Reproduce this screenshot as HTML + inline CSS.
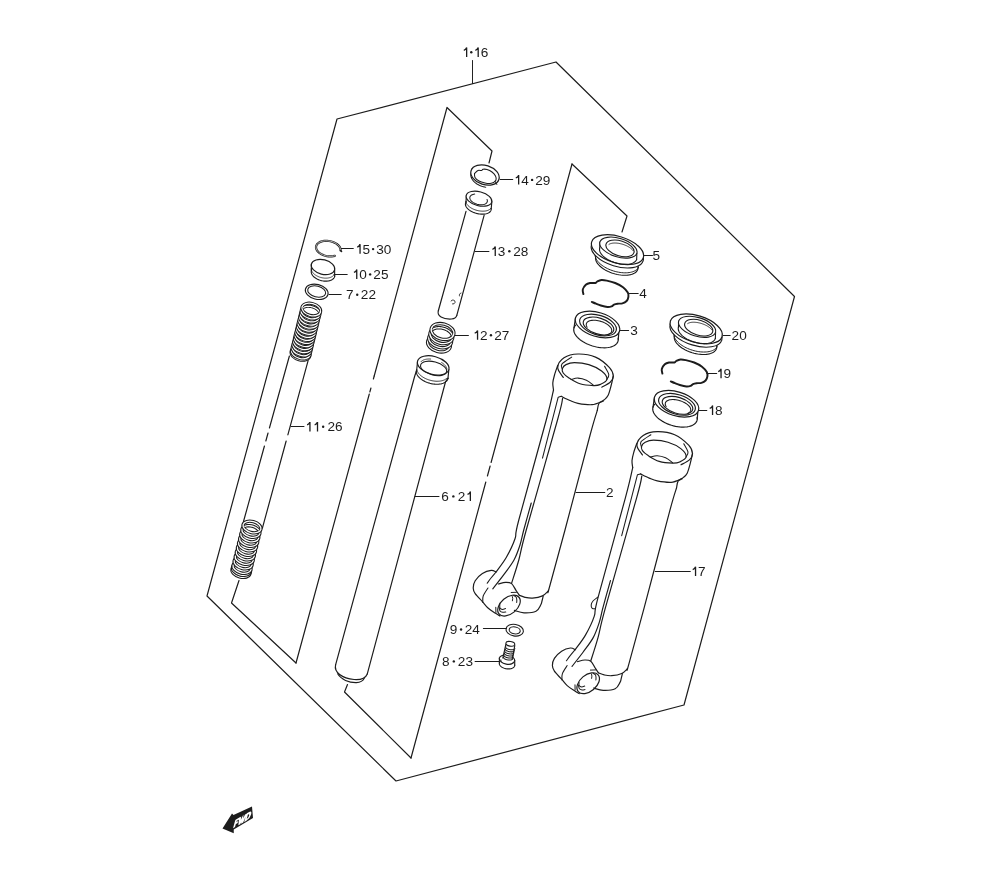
<!DOCTYPE html>
<html><head><meta charset="utf-8"><style>
html,body{margin:0;padding:0;background:#fff;width:1000px;height:880px;overflow:hidden}
svg{display:block;will-change:transform}
</style></head><body>
<svg width="1000" height="880" viewBox="0 0 1000 880">
<g fill="none" stroke="#1c1c1c" stroke-linecap="round" stroke-linejoin="round">
<path d="M556.00,62.00 L337.00,119.00 L207.00,596.00 L396.00,781.00 L684.00,705.00 L794.50,296.50 L556.00,62.00" stroke-width="1.19" />
<path d="M472.50,60.50 L472.50,83.60" stroke-width="0.97" />
<path d="M489.00,163.00 L492.00,151.00 L447.00,107.50 L374.20,376.00" stroke-width="1.19" />
<path d="M374.20,376.00 L373.38,379.00" stroke-width="1.19" />
<path d="M370.93,388.00 L369.84,392.00" stroke-width="1.19" />
<path d="M369.30,394.00 L296.00,663.00" stroke-width="1.19" />
<path d="M296.00,663.00 L231.50,603.00 L239.00,580.50" stroke-width="1.19" />
<path d="M622.00,232.00 L627.00,216.00 L572.00,164.00" stroke-width="1.19" />
<path d="M572.00,164.00 L491.09,462.50" stroke-width="1.19" />
<path d="M490.14,466.00 L487.43,476.00" stroke-width="1.19" />
<path d="M485.81,482.00 L411.00,758.00" stroke-width="1.19" />
<path d="M411.00,758.00 L344.50,692.00 L347.50,684.50" stroke-width="1.19" />
<path d="M341.20,248.50 L353.30,248.50" stroke-width="1.06" />
<path d="M334.00,274.50 L347.20,274.50" stroke-width="1.06" />
<path d="M329.00,294.50 L341.20,294.50" stroke-width="1.06" />
<path d="M500.20,179.50 L512.70,179.50" stroke-width="1.06" />
<path d="M475.20,251.50 L488.90,251.50" stroke-width="1.06" />
<path d="M454.80,335.50 L468.40,335.50" stroke-width="1.06" />
<path d="M644.30,255.50 L652.50,255.50" stroke-width="1.06" />
<path d="M629.30,293.50 L638.20,293.50" stroke-width="1.06" />
<path d="M620.40,330.50 L628.60,330.50" stroke-width="1.06" />
<path d="M723.10,335.50 L730.20,335.50" stroke-width="1.06" />
<path d="M706.80,373.50 L716.70,373.50" stroke-width="1.06" />
<path d="M698.20,410.50 L706.80,410.50" stroke-width="1.06" />
<path d="M576.00,492.50 L604.80,492.50" stroke-width="1.06" />
<path d="M655.20,571.50 L690.30,571.50" stroke-width="1.06" />
<path d="M291.00,426.50 L304.00,426.50" stroke-width="1.06" />
<path d="M415.00,496.50 L439.00,496.50" stroke-width="1.06" />
<path d="M483.40,628.50 L506.50,628.50" stroke-width="1.06" />
<path d="M475.10,661.50 L499.30,661.50" stroke-width="1.06" />
<ellipse cx="300.46" cy="353.88" rx="9.60" ry="6.00" transform="rotate(15 300.46 353.88)" stroke-width="3.10" fill="#fff" />
<ellipse cx="300.46" cy="353.88" rx="9.60" ry="6.00" transform="rotate(15 300.46 353.88)" stroke-width="1.25" fill="none" stroke="#fff"/>
<ellipse cx="300.80" cy="352.50" rx="9.60" ry="6.00" transform="rotate(15 300.80 352.50)" stroke-width="3.10" fill="#fff" />
<ellipse cx="300.80" cy="352.50" rx="9.60" ry="6.00" transform="rotate(15 300.80 352.50)" stroke-width="1.25" fill="none" stroke="#fff"/>
<ellipse cx="301.55" cy="349.43" rx="9.60" ry="6.00" transform="rotate(15 301.55 349.43)" stroke-width="3.10" fill="#fff" />
<ellipse cx="301.55" cy="349.43" rx="9.60" ry="6.00" transform="rotate(15 301.55 349.43)" stroke-width="1.25" fill="none" stroke="#fff"/>
<ellipse cx="302.30" cy="346.36" rx="9.60" ry="6.00" transform="rotate(15 302.30 346.36)" stroke-width="3.10" fill="#fff" />
<ellipse cx="302.30" cy="346.36" rx="9.60" ry="6.00" transform="rotate(15 302.30 346.36)" stroke-width="1.25" fill="none" stroke="#fff"/>
<ellipse cx="303.05" cy="343.29" rx="9.60" ry="6.00" transform="rotate(15 303.05 343.29)" stroke-width="3.10" fill="#fff" />
<ellipse cx="303.05" cy="343.29" rx="9.60" ry="6.00" transform="rotate(15 303.05 343.29)" stroke-width="1.25" fill="none" stroke="#fff"/>
<ellipse cx="303.80" cy="340.21" rx="9.60" ry="6.00" transform="rotate(15 303.80 340.21)" stroke-width="3.10" fill="#fff" />
<ellipse cx="303.80" cy="340.21" rx="9.60" ry="6.00" transform="rotate(15 303.80 340.21)" stroke-width="1.25" fill="none" stroke="#fff"/>
<ellipse cx="304.55" cy="337.14" rx="9.60" ry="6.00" transform="rotate(15 304.55 337.14)" stroke-width="3.10" fill="#fff" />
<ellipse cx="304.55" cy="337.14" rx="9.60" ry="6.00" transform="rotate(15 304.55 337.14)" stroke-width="1.25" fill="none" stroke="#fff"/>
<ellipse cx="305.30" cy="334.07" rx="9.60" ry="6.00" transform="rotate(15 305.30 334.07)" stroke-width="3.10" fill="#fff" />
<ellipse cx="305.30" cy="334.07" rx="9.60" ry="6.00" transform="rotate(15 305.30 334.07)" stroke-width="1.25" fill="none" stroke="#fff"/>
<ellipse cx="306.05" cy="331.00" rx="9.60" ry="6.00" transform="rotate(15 306.05 331.00)" stroke-width="3.10" fill="#fff" />
<ellipse cx="306.05" cy="331.00" rx="9.60" ry="6.00" transform="rotate(15 306.05 331.00)" stroke-width="1.25" fill="none" stroke="#fff"/>
<ellipse cx="306.80" cy="327.93" rx="9.60" ry="6.00" transform="rotate(15 306.80 327.93)" stroke-width="3.10" fill="#fff" />
<ellipse cx="306.80" cy="327.93" rx="9.60" ry="6.00" transform="rotate(15 306.80 327.93)" stroke-width="1.25" fill="none" stroke="#fff"/>
<ellipse cx="307.55" cy="324.86" rx="9.60" ry="6.00" transform="rotate(15 307.55 324.86)" stroke-width="3.10" fill="#fff" />
<ellipse cx="307.55" cy="324.86" rx="9.60" ry="6.00" transform="rotate(15 307.55 324.86)" stroke-width="1.25" fill="none" stroke="#fff"/>
<ellipse cx="308.30" cy="321.79" rx="9.60" ry="6.00" transform="rotate(15 308.30 321.79)" stroke-width="3.10" fill="#fff" />
<ellipse cx="308.30" cy="321.79" rx="9.60" ry="6.00" transform="rotate(15 308.30 321.79)" stroke-width="1.25" fill="none" stroke="#fff"/>
<ellipse cx="309.05" cy="318.71" rx="9.60" ry="6.00" transform="rotate(15 309.05 318.71)" stroke-width="3.10" fill="#fff" />
<ellipse cx="309.05" cy="318.71" rx="9.60" ry="6.00" transform="rotate(15 309.05 318.71)" stroke-width="1.25" fill="none" stroke="#fff"/>
<ellipse cx="309.80" cy="315.64" rx="9.60" ry="6.00" transform="rotate(15 309.80 315.64)" stroke-width="3.10" fill="#fff" />
<ellipse cx="309.80" cy="315.64" rx="9.60" ry="6.00" transform="rotate(15 309.80 315.64)" stroke-width="1.25" fill="none" stroke="#fff"/>
<ellipse cx="310.55" cy="312.57" rx="9.60" ry="6.00" transform="rotate(15 310.55 312.57)" stroke-width="3.10" fill="#fff" />
<ellipse cx="310.55" cy="312.57" rx="9.60" ry="6.00" transform="rotate(15 310.55 312.57)" stroke-width="1.25" fill="none" stroke="#fff"/>
<ellipse cx="311.30" cy="309.50" rx="9.60" ry="6.00" transform="rotate(15 311.30 309.50)" stroke-width="3.10" fill="#fff" />
<ellipse cx="311.30" cy="309.50" rx="9.60" ry="6.00" transform="rotate(15 311.30 309.50)" stroke-width="1.25" fill="none" stroke="#fff"/>
<clipPath id="sc1"><ellipse cx="311.30" cy="309.50" rx="8.40" ry="4.80" transform="rotate(15 311.30 309.50)"/></clipPath>
<g clip-path="url(#sc1)">
<path d="M301.15,311.13 L301.18,310.60 L301.28,310.09 L301.45,309.59 L301.69,309.12 L302.00,308.67 L302.37,308.25 L302.80,307.87 L303.30,307.52 L303.84,307.21 L304.44,306.94 L305.09,306.72 L305.78,306.53 L306.50,306.40 L307.26,306.31 L308.04,306.27 L308.84,306.28 L309.65,306.33 L310.47,306.43 L311.29,306.58 L312.10,306.78 L312.91,307.01 L313.69,307.30 L314.45,307.62 L315.18,307.98 L315.88,308.37 L316.53,308.79 L317.14,309.25 L317.70,309.73 L318.20,310.23 L318.65,310.75 L319.04,311.28 L319.36,311.83 L319.61,312.37 L319.79,312.92 L319.91,313.47 L319.95,314.01 L319.92,314.54 L319.82,315.06 L319.65,315.55 L319.41,316.02" stroke-width="3.10" />
<path d="M301.15,311.13 L301.18,310.60 L301.28,310.09 L301.45,309.59 L301.69,309.12 L302.00,308.67 L302.37,308.25 L302.80,307.87 L303.30,307.52 L303.84,307.21 L304.44,306.94 L305.09,306.72 L305.78,306.53 L306.50,306.40 L307.26,306.31 L308.04,306.27 L308.84,306.28 L309.65,306.33 L310.47,306.43 L311.29,306.58 L312.10,306.78 L312.91,307.01 L313.69,307.30 L314.45,307.62 L315.18,307.98 L315.88,308.37 L316.53,308.79 L317.14,309.25 L317.70,309.73 L318.20,310.23 L318.65,310.75 L319.04,311.28 L319.36,311.83 L319.61,312.37 L319.79,312.92 L319.91,313.47 L319.95,314.01 L319.92,314.54 L319.82,315.06 L319.65,315.55 L319.41,316.02" stroke-width="1.25" stroke="#fff"/>
</g>
<ellipse cx="241.00" cy="571.55" rx="9.20" ry="5.50" transform="rotate(15 241.00 571.55)" stroke-width="3.40" fill="#fff" />
<ellipse cx="241.00" cy="571.55" rx="9.20" ry="5.50" transform="rotate(15 241.00 571.55)" stroke-width="1.30" fill="none" stroke="#fff"/>
<ellipse cx="241.50" cy="569.52" rx="9.20" ry="5.50" transform="rotate(15 241.50 569.52)" stroke-width="3.40" fill="#fff" />
<ellipse cx="241.50" cy="569.52" rx="9.20" ry="5.50" transform="rotate(15 241.50 569.52)" stroke-width="1.30" fill="none" stroke="#fff"/>
<ellipse cx="242.00" cy="567.50" rx="9.20" ry="5.50" transform="rotate(15 242.00 567.50)" stroke-width="3.40" fill="#fff" />
<ellipse cx="242.00" cy="567.50" rx="9.20" ry="5.50" transform="rotate(15 242.00 567.50)" stroke-width="1.30" fill="none" stroke="#fff"/>
<ellipse cx="243.11" cy="563.00" rx="9.20" ry="5.50" transform="rotate(15 243.11 563.00)" stroke-width="3.40" fill="#fff" />
<ellipse cx="243.11" cy="563.00" rx="9.20" ry="5.50" transform="rotate(15 243.11 563.00)" stroke-width="1.30" fill="none" stroke="#fff"/>
<ellipse cx="244.22" cy="558.50" rx="9.20" ry="5.50" transform="rotate(15 244.22 558.50)" stroke-width="3.40" fill="#fff" />
<ellipse cx="244.22" cy="558.50" rx="9.20" ry="5.50" transform="rotate(15 244.22 558.50)" stroke-width="1.30" fill="none" stroke="#fff"/>
<ellipse cx="245.33" cy="554.00" rx="9.20" ry="5.50" transform="rotate(15 245.33 554.00)" stroke-width="3.40" fill="#fff" />
<ellipse cx="245.33" cy="554.00" rx="9.20" ry="5.50" transform="rotate(15 245.33 554.00)" stroke-width="1.30" fill="none" stroke="#fff"/>
<ellipse cx="246.44" cy="549.50" rx="9.20" ry="5.50" transform="rotate(15 246.44 549.50)" stroke-width="3.40" fill="#fff" />
<ellipse cx="246.44" cy="549.50" rx="9.20" ry="5.50" transform="rotate(15 246.44 549.50)" stroke-width="1.30" fill="none" stroke="#fff"/>
<ellipse cx="247.56" cy="545.00" rx="9.20" ry="5.50" transform="rotate(15 247.56 545.00)" stroke-width="3.40" fill="#fff" />
<ellipse cx="247.56" cy="545.00" rx="9.20" ry="5.50" transform="rotate(15 247.56 545.00)" stroke-width="1.30" fill="none" stroke="#fff"/>
<ellipse cx="248.67" cy="540.50" rx="9.20" ry="5.50" transform="rotate(15 248.67 540.50)" stroke-width="3.40" fill="#fff" />
<ellipse cx="248.67" cy="540.50" rx="9.20" ry="5.50" transform="rotate(15 248.67 540.50)" stroke-width="1.30" fill="none" stroke="#fff"/>
<ellipse cx="249.78" cy="536.00" rx="9.20" ry="5.50" transform="rotate(15 249.78 536.00)" stroke-width="3.40" fill="#fff" />
<ellipse cx="249.78" cy="536.00" rx="9.20" ry="5.50" transform="rotate(15 249.78 536.00)" stroke-width="1.30" fill="none" stroke="#fff"/>
<ellipse cx="250.89" cy="531.50" rx="9.20" ry="5.50" transform="rotate(15 250.89 531.50)" stroke-width="3.40" fill="#fff" />
<ellipse cx="250.89" cy="531.50" rx="9.20" ry="5.50" transform="rotate(15 250.89 531.50)" stroke-width="1.30" fill="none" stroke="#fff"/>
<ellipse cx="252.00" cy="527.00" rx="9.20" ry="5.50" transform="rotate(15 252.00 527.00)" stroke-width="3.40" fill="#fff" />
<ellipse cx="252.00" cy="527.00" rx="9.20" ry="5.50" transform="rotate(15 252.00 527.00)" stroke-width="1.30" fill="none" stroke="#fff"/>
<clipPath id="sc2"><ellipse cx="252.00" cy="527.00" rx="8.00" ry="4.30" transform="rotate(15 252.00 527.00)"/></clipPath>
<g clip-path="url(#sc2)">
<path d="M241.89,530.08 L241.91,529.59 L242.00,529.12 L242.16,528.66 L242.38,528.23 L242.67,527.83 L243.03,527.45 L243.44,527.10 L243.90,526.78 L244.43,526.50 L245.00,526.26 L245.61,526.06 L246.27,525.90 L246.96,525.78 L247.68,525.71 L248.42,525.68 L249.19,525.69 L249.96,525.75 L250.75,525.85 L251.53,526.00 L252.31,526.19 L253.08,526.42 L253.83,526.68 L254.56,526.98 L255.27,527.32 L255.93,527.69 L256.56,528.09 L257.15,528.51 L257.69,528.96 L258.18,529.43 L258.61,529.91 L258.98,530.40 L259.30,530.91 L259.54,531.41 L259.73,531.92 L259.84,532.42 L259.89,532.92 L259.87,533.41 L259.78,533.88 L259.62,534.34 L259.39,534.77" stroke-width="3.40" />
<path d="M241.89,530.08 L241.91,529.59 L242.00,529.12 L242.16,528.66 L242.38,528.23 L242.67,527.83 L243.03,527.45 L243.44,527.10 L243.90,526.78 L244.43,526.50 L245.00,526.26 L245.61,526.06 L246.27,525.90 L246.96,525.78 L247.68,525.71 L248.42,525.68 L249.19,525.69 L249.96,525.75 L250.75,525.85 L251.53,526.00 L252.31,526.19 L253.08,526.42 L253.83,526.68 L254.56,526.98 L255.27,527.32 L255.93,527.69 L256.56,528.09 L257.15,528.51 L257.69,528.96 L258.18,529.43 L258.61,529.91 L258.98,530.40 L259.30,530.91 L259.54,531.41 L259.73,531.92 L259.84,532.42 L259.89,532.92 L259.87,533.41 L259.78,533.88 L259.62,534.34 L259.39,534.77" stroke-width="1.30" stroke="#fff"/>
</g>
<path d="M289.40,356.00 L269.43,428.00" stroke-width="1.19" />
<path d="M268.04,433.00 L265.83,441.00" stroke-width="1.19" />
<path d="M264.44,446.00 L243.50,521.50" stroke-width="1.19" />
<path d="M308.10,360.60 L287.86,434.80" stroke-width="1.19" />
<path d="M286.16,441.00 L262.40,528.10" stroke-width="1.19" />
<path d="M334.78,255.82 L333.33,256.15 L331.80,256.34 L330.20,256.39 L328.56,256.30 L326.93,256.08 L325.31,255.72 L323.75,255.23 L322.28,254.63 L320.90,253.92 L319.67,253.12 L318.58,252.23 L317.67,251.28 L316.94,250.29 L316.42,249.26 L316.11,248.22 L316.02,247.19 L316.14,246.18 L316.49,245.22 L317.04,244.31 L317.79,243.49 L318.73,242.75 L319.84,242.12 L321.10,241.60 L322.49,241.21 L323.98,240.95 L325.55,240.82 L327.17,240.84 L328.81,240.99 L330.44,241.28 L332.03,241.70 L333.55,242.24 L334.98,242.89 L336.30,243.65 L337.47,244.49 L338.47,245.41 L339.30,246.38 L339.93,247.40 L340.35,248.43 L340.56,249.47 L340.55,250.49" stroke-width="2.20" />
<path d="M334.78,255.82 L333.33,256.15 L331.80,256.34 L330.20,256.39 L328.56,256.30 L326.93,256.08 L325.31,255.72 L323.75,255.23 L322.28,254.63 L320.90,253.92 L319.67,253.12 L318.58,252.23 L317.67,251.28 L316.94,250.29 L316.42,249.26 L316.11,248.22 L316.02,247.19 L316.14,246.18 L316.49,245.22 L317.04,244.31 L317.79,243.49 L318.73,242.75 L319.84,242.12 L321.10,241.60 L322.49,241.21 L323.98,240.95 L325.55,240.82 L327.17,240.84 L328.81,240.99 L330.44,241.28 L332.03,241.70 L333.55,242.24 L334.98,242.89 L336.30,243.65 L337.47,244.49 L338.47,245.41 L339.30,246.38 L339.93,247.40 L340.35,248.43 L340.56,249.47 L340.55,250.49" stroke-width="0.66" stroke="#fff"/>
<path d="M340.55,250.49 L341.60,251.50" stroke-width="1.41" />
<ellipse cx="323.00" cy="267.00" rx="12.00" ry="7.30" transform="rotate(14 323.00 267.00)" stroke-width="1.14" fill="#fff" />
<path d="M334.75,275.77 L334.65,276.37 L334.47,276.95 L334.21,277.50 L333.87,278.03 L333.46,278.53 L332.97,278.99 L332.42,279.41 L331.80,279.79 L331.13,280.13 L330.39,280.43 L329.61,280.67 L328.78,280.87 L327.91,281.02 L327.00,281.11 L326.07,281.15 L325.12,281.14 L324.15,281.08 L323.18,280.97 L322.20,280.80 L321.23,280.58 L320.28,280.32 L319.34,280.01 L318.42,279.65 L317.54,279.25 L316.69,278.81 L315.89,278.34 L315.14,277.83 L314.44,277.29 L313.80,276.73 L313.22,276.14 L312.71,275.54 L312.27,274.92 L311.91,274.30 L311.62,273.66 L311.41,273.03 L311.28,272.40 L311.22,271.77 L311.25,271.16 L311.36,270.57 L311.55,269.99" stroke-width="1.14" />
<path d="M311.36,264.10 L311.36,270.60" stroke-width="1.14" />
<path d="M334.64,269.90 L334.64,276.40" stroke-width="1.14" />
<path d="M334.16,274.59 L333.87,275.03 L333.53,275.45 L333.13,275.85 L332.69,276.21 L332.20,276.56 L331.67,276.87 L331.09,277.15 L330.47,277.40 L329.82,277.61 L329.13,277.79 L328.42,277.94 L327.67,278.05 L326.91,278.12 L326.12,278.15 L325.32,278.15 L324.51,278.11 L323.69,278.03 L322.87,277.92 L322.05,277.77 L321.23,277.58 L320.43,277.36 L319.63,277.11 L318.85,276.82 L318.09,276.51 L317.36,276.16 L316.65,275.79 L315.97,275.39 L315.33,274.97 L314.73,274.52 L314.16,274.06 L313.64,273.58 L313.17,273.08 L312.74,272.57 L312.36,272.05 L312.03,271.53 L311.76,271.00 L311.54,270.46 L311.38,269.93 L311.28,269.40 L311.23,268.87" stroke-width="0.79" />
<ellipse cx="316.70" cy="291.80" rx="11.60" ry="7.40" transform="rotate(14 316.70 291.80)" stroke-width="1.14" fill="none" />
<ellipse cx="316.70" cy="291.50" rx="9.20" ry="5.50" transform="rotate(14 316.70 291.50)" stroke-width="1.06" fill="none" />
<path d="M485.73,187.19 L484.95,187.06 L484.18,186.91 L483.41,186.73 L482.64,186.52 L481.88,186.28 L481.13,186.02 L480.39,185.72 L479.67,185.41 L478.96,185.07 L478.27,184.70 L477.59,184.32 L476.95,183.91 L476.32,183.48 L475.72,183.03 L475.15,182.57 L474.61,182.09 L474.09,181.60 L473.61,181.09 L473.17,180.57 L472.76,180.04 L472.38,179.50 L472.05,178.96 L471.75,178.41 L471.49,177.86 L471.27,177.30 L471.10,176.75 L470.96,176.19 L470.87,175.64 L470.81,175.10 L470.80,174.56 L470.83,174.02 L470.91,173.50 L471.02,172.99 L471.18,172.49 L471.38,172.01 L471.62,171.54 L471.90,171.08 L472.22,170.65 L472.57,170.23 L472.97,169.84" stroke-width="1.14" />
<path d="M472.36,168.28 L472.36,170.48" stroke-width="1.06" />
<ellipse cx="485.00" cy="175.00" rx="14.60" ry="9.60" transform="rotate(18 485.00 175.00)" stroke-width="1.19" fill="#fff" />
<path d="M474.50,173.50 C475.08,173.00 476.83,171.00 478.00,170.50 C479.17,170.00 480.67,170.70 481.50,170.50 C482.33,170.30 482.08,169.47 483.00,169.30 C483.92,169.13 485.50,169.05 487.00,169.50 C488.50,169.95 490.58,170.92 492.00,172.00 C493.42,173.08 494.83,174.67 495.50,176.00 C496.17,177.33 496.33,178.92 496.00,180.00 C495.67,181.08 493.92,182.08 493.50,182.50" stroke-width="1.06" />
<path d="M474.50,173.50 C474.58,174.17 474.25,176.25 475.00,177.50 C475.75,178.75 477.33,180.08 479.00,181.00 C480.67,181.92 483.17,182.58 485.00,183.00 C486.83,183.42 488.58,183.58 490.00,183.50 C491.42,183.42 492.92,182.67 493.50,182.50" stroke-width="1.06" />
<path d="M495.20,181.50 L496.80,184.50" stroke-width="0.97" />
<path d="M466.00,211.40 L438.40,310.50" stroke-width="1.19" />
<path d="M484.10,215.40 L456.80,315.30" stroke-width="1.19" />
<path d="M438.4,310.5 C436.5,316 443,319.5 451.5,319 C455,318.6 456.4,317 456.8,315.3" stroke-width="1.19" />
<path d="M491.15,208.54 L491.18,209.18 L491.10,209.80 L490.92,210.40 L490.65,210.97 L490.27,211.50 L489.81,211.99 L489.25,212.45 L488.60,212.85 L487.87,213.21 L487.07,213.51 L486.20,213.76 L485.26,213.95 L484.27,214.08 L483.23,214.16 L482.15,214.17 L481.05,214.13 L479.92,214.02 L478.77,213.86 L477.63,213.64 L476.49,213.36 L475.36,213.03 L474.26,212.65 L473.19,212.22 L472.16,211.75 L471.18,211.23 L470.25,210.68 L469.39,210.10 L468.60,209.49 L467.88,208.85 L467.25,208.20 L466.71,207.54 L466.25,206.86 L465.90,206.19 L465.64,205.52 L465.48,204.86 L465.42,204.21 L465.47,203.58 L465.61,202.97 L465.86,202.40 L466.21,201.85" stroke-width="1.14" />
<path d="M466.46,194.71 L465.93,202.28" stroke-width="1.14" />
<path d="M491.86,201.51 L491.18,209.04" stroke-width="1.14" />
<path d="M490.94,208.14 L490.63,208.55 L490.27,208.94 L489.84,209.30 L489.37,209.63 L488.84,209.94 L488.26,210.21 L487.63,210.45 L486.96,210.66 L486.25,210.84 L485.51,210.98 L484.73,211.08 L483.92,211.14 L483.09,211.17 L482.23,211.17 L481.36,211.12 L480.47,211.04 L479.58,210.92 L478.68,210.77 L477.78,210.58 L476.89,210.36 L476.00,210.11 L475.13,209.82 L474.28,209.50 L473.44,209.16 L472.64,208.79 L471.86,208.39 L471.11,207.97 L470.41,207.52 L469.74,207.06 L469.12,206.58 L468.54,206.09 L468.01,205.59 L467.54,205.07 L467.12,204.55 L466.75,204.02 L466.45,203.49 L466.20,202.97 L466.01,202.44 L465.89,201.92 L465.83,201.41" stroke-width="0.88" />
<ellipse cx="479.00" cy="198.70" rx="13.20" ry="7.00" transform="rotate(15 479.00 198.70)" stroke-width="1.14" fill="#fff" />
<path d="M487.03,199.47 L487.25,200.08 L487.37,200.67 L487.38,201.26 L487.27,201.81 L487.05,202.34 L486.72,202.83 L486.29,203.27 L485.76,203.67 L485.13,204.01 L484.43,204.29 L483.65,204.51 L482.80,204.66 L481.90,204.74 L480.95,204.76 L479.98,204.71 L478.99,204.59 L477.99,204.40 L477.00,204.15 L476.04,203.83 L475.10,203.46 L474.21,203.04 L473.38,202.57 L472.61,202.06 L471.92,201.52 L471.32,200.95 L470.81,200.35 L470.40,199.75 L470.09,199.14 L469.90,198.54 L469.81,197.94 L469.84,197.37 L469.99,196.82 L470.24,196.31 L470.60,195.83 L471.06,195.40 L471.62,195.02 L472.27,194.70 L473.01,194.44 L473.81,194.24 L474.67,194.11" stroke-width="1.01" />
<path d="M451,301 a2.2,2 0 1 1 1.5,3" stroke-width="0.88" />
<path d="M459.5,296 a2,2 0 0 1 1.5,-3" stroke-width="0.88" />
<ellipse cx="439.00" cy="344.00" rx="11.60" ry="7.60" transform="rotate(15 439.00 344.00)" stroke-width="3.40" fill="#fff" />
<ellipse cx="439.00" cy="344.00" rx="11.60" ry="7.60" transform="rotate(15 439.00 344.00)" stroke-width="1.30" fill="none" stroke="#fff"/>
<ellipse cx="440.17" cy="339.83" rx="11.60" ry="7.60" transform="rotate(15 440.17 339.83)" stroke-width="3.40" fill="#fff" />
<ellipse cx="440.17" cy="339.83" rx="11.60" ry="7.60" transform="rotate(15 440.17 339.83)" stroke-width="1.30" fill="none" stroke="#fff"/>
<ellipse cx="441.33" cy="335.67" rx="11.60" ry="7.60" transform="rotate(15 441.33 335.67)" stroke-width="3.40" fill="#fff" />
<ellipse cx="441.33" cy="335.67" rx="11.60" ry="7.60" transform="rotate(15 441.33 335.67)" stroke-width="1.30" fill="none" stroke="#fff"/>
<ellipse cx="442.50" cy="331.50" rx="11.60" ry="7.60" transform="rotate(15 442.50 331.50)" stroke-width="3.40" fill="#fff" />
<ellipse cx="442.50" cy="331.50" rx="11.60" ry="7.60" transform="rotate(15 442.50 331.50)" stroke-width="1.30" fill="none" stroke="#fff"/>
<clipPath id="sc3"><ellipse cx="442.50" cy="331.50" rx="10.40" ry="6.40" transform="rotate(15 442.50 331.50)"/></clipPath>
<g clip-path="url(#sc3)">
<path d="M429.96,333.98 L430.00,333.32 L430.13,332.66 L430.34,332.04 L430.64,331.44 L431.02,330.87 L431.48,330.33 L432.01,329.84 L432.61,329.40 L433.28,329.00 L434.01,328.65 L434.80,328.35 L435.64,328.11 L436.52,327.93 L437.43,327.81 L438.38,327.74 L439.35,327.74 L440.33,327.80 L441.32,327.92 L442.32,328.09 L443.30,328.33 L444.27,328.62 L445.22,328.96 L446.13,329.35 L447.01,329.80 L447.85,330.28 L448.64,330.81 L449.37,331.38 L450.04,331.97 L450.65,332.60 L451.18,333.25 L451.64,333.92 L452.02,334.60 L452.32,335.29 L452.54,335.98 L452.67,336.67 L452.71,337.35 L452.67,338.02 L452.54,338.67 L452.32,339.30 L452.03,339.90" stroke-width="3.40" />
<path d="M429.96,333.98 L430.00,333.32 L430.13,332.66 L430.34,332.04 L430.64,331.44 L431.02,330.87 L431.48,330.33 L432.01,329.84 L432.61,329.40 L433.28,329.00 L434.01,328.65 L434.80,328.35 L435.64,328.11 L436.52,327.93 L437.43,327.81 L438.38,327.74 L439.35,327.74 L440.33,327.80 L441.32,327.92 L442.32,328.09 L443.30,328.33 L444.27,328.62 L445.22,328.96 L446.13,329.35 L447.01,329.80 L447.85,330.28 L448.64,330.81 L449.37,331.38 L450.04,331.97 L450.65,332.60 L451.18,333.25 L451.64,333.92 L452.02,334.60 L452.32,335.29 L452.54,335.98 L452.67,336.67 L452.71,337.35 L452.67,338.02 L452.54,338.67 L452.32,339.30 L452.03,339.90" stroke-width="1.30" stroke="#fff"/>
</g>
<path d="M416.70,369.96 L414.60,376.50 L335.60,664.80" stroke-width="1.19" />
<path d="M447.95,378.33 L445.60,381.50 L367.30,673.90" stroke-width="1.19" />
<path d="M335.6,664.8 C333.8,672 342,678.5 354.1,679.5 C361,680 365.8,677.5 367.3,673.9" stroke-width="1.19" />
<path d="M337.6,673.8 C341,679.5 349,682.8 356.4,682.6 C360.5,682.4 363,680.8 364.3,678.2" stroke-width="1.06" />
<path d="M447.99,378.02 L447.86,378.75 L447.62,379.46 L447.27,380.14 L446.82,380.77 L446.27,381.36 L445.62,381.91 L444.88,382.41 L444.05,382.85 L443.15,383.24 L442.16,383.56 L441.11,383.83 L440.00,384.03 L438.83,384.17 L437.62,384.24 L436.37,384.25 L435.09,384.18 L433.79,384.06 L432.49,383.87 L431.17,383.61 L429.87,383.29 L428.58,382.92 L427.32,382.48 L426.09,381.99 L424.90,381.45 L423.77,380.87 L422.69,380.24 L421.67,379.57 L420.73,378.87 L419.87,378.14 L419.09,377.38 L418.40,376.61 L417.81,375.82 L417.31,375.02 L416.92,374.22 L416.63,373.42 L416.45,372.63 L416.38,371.86 L416.42,371.10 L416.56,370.37 L416.81,369.67" stroke-width="1.14" />
<path d="M446.51,378.51 L446.02,378.91 L445.48,379.28 L444.90,379.62 L444.27,379.94 L443.60,380.22 L442.88,380.47 L442.13,380.68 L441.34,380.87 L440.52,381.01 L439.67,381.13 L438.79,381.20 L437.89,381.24 L436.97,381.25 L436.03,381.22 L435.08,381.15 L434.13,381.05 L433.16,380.91 L432.20,380.74 L431.23,380.53 L430.27,380.29 L429.32,380.02 L428.38,379.72 L427.46,379.38 L426.55,379.02 L425.67,378.63 L424.82,378.21 L423.99,377.77 L423.20,377.31 L422.44,376.82 L421.72,376.32 L421.04,375.79 L420.40,375.25 L419.81,374.70 L419.26,374.14 L418.77,373.57 L418.32,372.99 L417.93,372.40 L417.60,371.81 L417.32,371.22 L417.10,370.63" stroke-width="0.88" />
<path d="M417.55,361.21 L416.70,369.96" stroke-width="1.14" />
<path d="M448.85,369.59 L447.95,378.33" stroke-width="1.14" />
<ellipse cx="433.20" cy="365.40" rx="16.20" ry="9.00" transform="rotate(15 433.20 365.40)" stroke-width="1.19" fill="#fff" />
<ellipse cx="433.60" cy="368.40" rx="13.40" ry="6.60" transform="rotate(15 433.60 368.40)" stroke-width="1.06" fill="none" />
<path d="M421.02,361.70 L421.15,361.56 L421.29,361.42 L421.43,361.28 L421.59,361.15 L421.74,361.02 L421.91,360.90 L422.08,360.77 L422.26,360.66 L422.44,360.54 L422.63,360.43 L422.83,360.32 L423.04,360.22 L423.24,360.12 L423.46,360.02 L423.68,359.93 L423.91,359.85 L424.14,359.76 L424.38,359.68 L424.62,359.61 L424.87,359.54 L425.12,359.47 L425.38,359.41 L425.64,359.35 L425.90,359.30 L426.17,359.25 L426.45,359.20 L426.73,359.17 L427.01,359.13 L427.30,359.10 L427.59,359.07 L427.88,359.05 L428.18,359.03 L428.48,359.02 L428.78,359.01 L429.08,359.01 L429.39,359.01 L429.70,359.02 L430.01,359.03 L430.33,359.04 L430.64,359.06" stroke-width="0.88" />
<path d="M441.72,362.60 L441.95,362.74 L442.18,362.89 L442.40,363.04 L442.61,363.19 L442.83,363.35 L443.03,363.50 L443.24,363.66 L443.44,363.82 L443.63,363.98 L443.82,364.14 L444.00,364.31 L444.18,364.47 L444.35,364.64 L444.52,364.80 L444.68,364.97 L444.84,365.14 L444.99,365.31 L445.14,365.48 L445.28,365.65 L445.42,365.83 L445.55,366.00 L445.67,366.17 L445.79,366.35 L445.90,366.52 L446.01,366.69 L446.11,366.87 L446.20,367.04 L446.29,367.22 L446.37,367.39 L446.45,367.56 L446.52,367.74 L446.58,367.91 L446.64,368.08 L446.69,368.26 L446.73,368.43 L446.77,368.60 L446.80,368.77 L446.83,368.94 L446.85,369.11 L446.86,369.28" stroke-width="0.88" />
<g transform="translate(0 0)">
<path d="M638.09,267.68 L637.99,268.64 L637.73,269.57 L637.31,270.44 L636.75,271.25 L636.04,272.01 L635.19,272.70 L634.21,273.31 L633.10,273.85 L631.87,274.31 L630.53,274.68 L629.09,274.97 L627.56,275.17 L625.95,275.27 L624.28,275.29 L622.54,275.21 L620.77,275.05 L618.97,274.79 L617.15,274.45 L615.33,274.02 L613.53,273.51 L611.74,272.92 L609.99,272.26 L608.29,271.53 L606.66,270.73 L605.10,269.88 L603.62,268.97 L602.24,268.02 L600.97,267.03 L599.81,266.02 L598.77,264.97 L597.87,263.91 L597.11,262.85 L596.49,261.78 L596.02,260.72 L595.70,259.67 L595.53,258.65 L595.52,257.66 L595.67,256.71 L595.97,255.80 L596.42,254.94" stroke-width="1.14" />
<path d="M638.24,267.54 L637.79,268.29 L637.23,268.99 L636.56,269.65 L635.78,270.25 L634.90,270.79 L633.92,271.27 L632.84,271.70 L631.68,272.06 L630.44,272.35 L629.12,272.57 L627.74,272.73 L626.30,272.81 L624.81,272.83 L623.27,272.77 L621.70,272.64 L620.10,272.45 L618.49,272.18 L616.87,271.85 L615.25,271.46 L613.64,271.00 L612.05,270.48 L610.48,269.90 L608.95,269.27 L607.47,268.59 L606.03,267.85 L604.66,267.08 L603.36,266.27 L602.13,265.42 L600.98,264.55 L599.92,263.64 L598.95,262.72 L598.09,261.79 L597.33,260.84 L596.67,259.89 L596.13,258.94 L595.70,257.99 L595.39,257.06 L595.20,256.14 L595.13,255.25 L595.18,254.38" stroke-width="0.97" />
<path d="M596.54,248.04 L596.42,254.94" stroke-width="1.14" />
<path d="M638.78,260.95 L638.09,267.68" stroke-width="1.14" />
<ellipse cx="617.30" cy="253.00" rx="27.00" ry="13.30" transform="rotate(17 617.30 253.00)" stroke-width="1.14" fill="#fff" />
<ellipse cx="617.50" cy="249.70" rx="27.00" ry="13.30" transform="rotate(17 617.50 249.70)" stroke-width="1.19" fill="#fff" />
<path d="M636.66,259.24 L636.38,259.95 L635.99,260.61 L635.49,261.23 L634.89,261.80 L634.18,262.33 L633.37,262.80 L632.47,263.21 L631.48,263.56 L630.41,263.85 L629.27,264.08 L628.05,264.25 L626.78,264.34 L625.45,264.38 L624.08,264.34 L622.67,264.24 L621.23,264.07 L619.78,263.84 L618.32,263.55 L616.85,263.19 L615.39,262.78 L613.95,262.31 L612.54,261.78 L611.16,261.21 L609.83,260.59 L608.54,259.92 L607.32,259.22 L606.16,258.48 L605.08,257.71 L604.08,256.92 L603.16,256.10 L602.34,255.27 L601.62,254.43 L601.00,253.59 L600.48,252.74 L600.07,251.90 L599.78,251.07 L599.60,250.26 L599.53,249.46 L599.58,248.69 L599.74,247.96" stroke-width="1.10" />
<path d="M599.74,247.96 L599.94,241.96" stroke-width="1.10" />
<path d="M636.66,259.24 L636.86,253.24" stroke-width="1.10" />
<ellipse cx="618.40" cy="247.60" rx="19.30" ry="9.30" transform="rotate(17 618.40 247.60)" stroke-width="1.14" fill="#fff" />
<ellipse cx="620.00" cy="248.40" rx="14.60" ry="7.50" transform="rotate(17 620.00 248.40)" stroke-width="1.14" fill="none" />
<path d="M609.02,244.38 L609.39,244.15 L609.80,243.94 L610.24,243.75 L610.72,243.59 L611.23,243.44 L611.77,243.32 L612.34,243.21 L612.94,243.13 L613.56,243.07 L614.20,243.04 L614.87,243.03 L615.56,243.04 L616.26,243.07 L616.98,243.13 L617.71,243.21 L618.45,243.31 L619.19,243.44 L619.95,243.59 L620.70,243.75 L621.46,243.94 L622.21,244.15 L622.96,244.38 L623.70,244.63 L624.43,244.89 L625.15,245.17 L625.86,245.47 L626.55,245.78 L627.22,246.11 L627.87,246.45 L628.50,246.80 L629.11,247.17 L629.68,247.54 L630.23,247.92 L630.75,248.31 L631.24,248.71 L631.69,249.11 L632.11,249.51 L632.49,249.92 L632.83,250.32 L633.14,250.73" stroke-width="0.88" />
</g>
<g transform="translate(78.7 79.2)">
<path d="M638.09,267.68 L637.99,268.64 L637.73,269.57 L637.31,270.44 L636.75,271.25 L636.04,272.01 L635.19,272.70 L634.21,273.31 L633.10,273.85 L631.87,274.31 L630.53,274.68 L629.09,274.97 L627.56,275.17 L625.95,275.27 L624.28,275.29 L622.54,275.21 L620.77,275.05 L618.97,274.79 L617.15,274.45 L615.33,274.02 L613.53,273.51 L611.74,272.92 L609.99,272.26 L608.29,271.53 L606.66,270.73 L605.10,269.88 L603.62,268.97 L602.24,268.02 L600.97,267.03 L599.81,266.02 L598.77,264.97 L597.87,263.91 L597.11,262.85 L596.49,261.78 L596.02,260.72 L595.70,259.67 L595.53,258.65 L595.52,257.66 L595.67,256.71 L595.97,255.80 L596.42,254.94" stroke-width="1.14" />
<path d="M638.24,267.54 L637.79,268.29 L637.23,268.99 L636.56,269.65 L635.78,270.25 L634.90,270.79 L633.92,271.27 L632.84,271.70 L631.68,272.06 L630.44,272.35 L629.12,272.57 L627.74,272.73 L626.30,272.81 L624.81,272.83 L623.27,272.77 L621.70,272.64 L620.10,272.45 L618.49,272.18 L616.87,271.85 L615.25,271.46 L613.64,271.00 L612.05,270.48 L610.48,269.90 L608.95,269.27 L607.47,268.59 L606.03,267.85 L604.66,267.08 L603.36,266.27 L602.13,265.42 L600.98,264.55 L599.92,263.64 L598.95,262.72 L598.09,261.79 L597.33,260.84 L596.67,259.89 L596.13,258.94 L595.70,257.99 L595.39,257.06 L595.20,256.14 L595.13,255.25 L595.18,254.38" stroke-width="0.97" />
<path d="M596.54,248.04 L596.42,254.94" stroke-width="1.14" />
<path d="M638.78,260.95 L638.09,267.68" stroke-width="1.14" />
<ellipse cx="617.30" cy="253.00" rx="27.00" ry="13.30" transform="rotate(17 617.30 253.00)" stroke-width="1.14" fill="#fff" />
<ellipse cx="617.50" cy="249.70" rx="27.00" ry="13.30" transform="rotate(17 617.50 249.70)" stroke-width="1.19" fill="#fff" />
<path d="M636.66,259.24 L636.38,259.95 L635.99,260.61 L635.49,261.23 L634.89,261.80 L634.18,262.33 L633.37,262.80 L632.47,263.21 L631.48,263.56 L630.41,263.85 L629.27,264.08 L628.05,264.25 L626.78,264.34 L625.45,264.38 L624.08,264.34 L622.67,264.24 L621.23,264.07 L619.78,263.84 L618.32,263.55 L616.85,263.19 L615.39,262.78 L613.95,262.31 L612.54,261.78 L611.16,261.21 L609.83,260.59 L608.54,259.92 L607.32,259.22 L606.16,258.48 L605.08,257.71 L604.08,256.92 L603.16,256.10 L602.34,255.27 L601.62,254.43 L601.00,253.59 L600.48,252.74 L600.07,251.90 L599.78,251.07 L599.60,250.26 L599.53,249.46 L599.58,248.69 L599.74,247.96" stroke-width="1.10" />
<path d="M599.74,247.96 L599.94,241.96" stroke-width="1.10" />
<path d="M636.66,259.24 L636.86,253.24" stroke-width="1.10" />
<ellipse cx="618.40" cy="247.60" rx="19.30" ry="9.30" transform="rotate(17 618.40 247.60)" stroke-width="1.14" fill="#fff" />
<ellipse cx="620.00" cy="248.40" rx="14.60" ry="7.50" transform="rotate(17 620.00 248.40)" stroke-width="1.14" fill="none" />
<path d="M609.02,244.38 L609.39,244.15 L609.80,243.94 L610.24,243.75 L610.72,243.59 L611.23,243.44 L611.77,243.32 L612.34,243.21 L612.94,243.13 L613.56,243.07 L614.20,243.04 L614.87,243.03 L615.56,243.04 L616.26,243.07 L616.98,243.13 L617.71,243.21 L618.45,243.31 L619.19,243.44 L619.95,243.59 L620.70,243.75 L621.46,243.94 L622.21,244.15 L622.96,244.38 L623.70,244.63 L624.43,244.89 L625.15,245.17 L625.86,245.47 L626.55,245.78 L627.22,246.11 L627.87,246.45 L628.50,246.80 L629.11,247.17 L629.68,247.54 L630.23,247.92 L630.75,248.31 L631.24,248.71 L631.69,249.11 L632.11,249.51 L632.49,249.92 L632.83,250.32 L633.14,250.73" stroke-width="0.88" />
</g>
<g transform="translate(0 0)">
<path d="M583.40,294.10 C583.30,293.35 582.40,291.15 582.80,289.60 C583.20,288.05 584.60,285.90 585.80,284.80 C587.00,283.70 588.40,283.30 590.00,283.00 C591.60,282.70 594.20,283.25 595.40,283.00 C596.60,282.75 596.20,282.00 597.20,281.50 C598.20,281.00 599.80,280.15 601.40,280.00 C603.00,279.85 604.50,280.10 606.80,280.60 C609.10,281.10 612.50,281.90 615.20,283.00 C617.90,284.10 620.90,285.60 623.00,287.20 C625.10,288.80 626.90,291.00 627.80,292.60 C628.70,294.20 628.60,295.40 628.40,296.80 C628.20,298.20 627.60,299.90 626.60,301.00 C625.60,302.10 623.90,302.95 622.40,303.40 C620.90,303.85 619.00,303.50 617.60,303.70 C616.20,303.90 615.00,304.15 614.00,304.60 C613.00,305.05 612.70,306.00 611.60,306.40 C610.50,306.80 609.20,307.15 607.40,307.00 C605.60,306.85 602.70,306.05 600.80,305.50 C598.90,304.95 597.50,304.30 596.00,303.70 C594.50,303.10 592.50,302.20 591.80,301.90" stroke-width="1.94" />
</g>
<g transform="translate(79 79.5)">
<path d="M583.40,294.10 C583.30,293.35 582.40,291.15 582.80,289.60 C583.20,288.05 584.60,285.90 585.80,284.80 C587.00,283.70 588.40,283.30 590.00,283.00 C591.60,282.70 594.20,283.25 595.40,283.00 C596.60,282.75 596.20,282.00 597.20,281.50 C598.20,281.00 599.80,280.15 601.40,280.00 C603.00,279.85 604.50,280.10 606.80,280.60 C609.10,281.10 612.50,281.90 615.20,283.00 C617.90,284.10 620.90,285.60 623.00,287.20 C625.10,288.80 626.90,291.00 627.80,292.60 C628.70,294.20 628.60,295.40 628.40,296.80 C628.20,298.20 627.60,299.90 626.60,301.00 C625.60,302.10 623.90,302.95 622.40,303.40 C620.90,303.85 619.00,303.50 617.60,303.70 C616.20,303.90 615.00,304.15 614.00,304.60 C613.00,305.05 612.70,306.00 611.60,306.40 C610.50,306.80 609.20,307.15 607.40,307.00 C605.60,306.85 602.70,306.05 600.80,305.50 C598.90,304.95 597.50,304.30 596.00,303.70 C594.50,303.10 592.50,302.20 591.80,301.90" stroke-width="1.94" />
</g>
<g transform="translate(0 0)">
<path d="M618.15,338.03 L618.27,339.18 L618.20,340.30 L617.95,341.37 L617.51,342.39 L616.89,343.33 L616.09,344.21 L615.13,345.00 L614.00,345.70 L612.73,346.31 L611.31,346.82 L609.77,347.23 L608.11,347.53 L606.35,347.72 L604.50,347.80 L602.58,347.77 L600.61,347.62 L598.59,347.37 L596.56,347.01 L594.52,346.54 L592.49,345.98 L590.49,345.31 L588.54,344.56 L586.65,343.72 L584.84,342.80 L583.13,341.82 L581.52,340.77 L580.03,339.67 L578.68,338.53 L577.47,337.35 L576.41,336.15 L575.53,334.94 L574.81,333.72 L574.27,332.51 L573.91,331.31 L573.74,330.14 L573.76,329.01 L573.96,327.93 L574.35,326.90 L574.92,325.93 L575.66,325.03" stroke-width="1.19" />
<path d="M575.50,317.78 L574.00,327.78" stroke-width="1.19" />
<path d="M618.79,332.76 L618.27,339.56" stroke-width="1.19" />
<ellipse cx="597.50" cy="324.50" rx="23.00" ry="12.00" transform="rotate(17 597.50 324.50)" stroke-width="1.19" fill="#fff" />
<ellipse cx="598.00" cy="325.00" rx="19.00" ry="9.80" transform="rotate(17 598.00 325.00)" stroke-width="1.14" fill="none" />
<ellipse cx="598.50" cy="326.00" rx="15.80" ry="8.00" transform="rotate(17 598.50 326.00)" stroke-width="1.14" fill="none" />
<path d="M587.13,327.22 L586.71,326.46 L586.42,325.72 L586.26,325.00 L586.25,324.30 L586.38,323.64 L586.64,323.02 L587.04,322.45 L587.57,321.94 L588.23,321.48 L589.00,321.10 L589.89,320.78 L590.87,320.54 L591.94,320.37 L593.09,320.28 L594.31,320.27 L595.58,320.34 L596.88,320.49 L598.21,320.71 L599.54,321.01 L600.87,321.38 L602.18,321.82 L603.45,322.32 L604.68,322.87 L605.84,323.48 L606.93,324.13 L607.93,324.82 L608.84,325.53 L609.63,326.27 L610.31,327.02 L610.87,327.78 L611.29,328.54 L611.58,329.28 L611.74,330.00 L611.75,330.70 L611.62,331.36 L611.36,331.98 L610.96,332.55 L610.43,333.06 L609.77,333.52 L609.00,333.90" stroke-width="1.06" />
</g>
<g transform="translate(79 79.3)">
<path d="M618.15,338.03 L618.27,339.18 L618.20,340.30 L617.95,341.37 L617.51,342.39 L616.89,343.33 L616.09,344.21 L615.13,345.00 L614.00,345.70 L612.73,346.31 L611.31,346.82 L609.77,347.23 L608.11,347.53 L606.35,347.72 L604.50,347.80 L602.58,347.77 L600.61,347.62 L598.59,347.37 L596.56,347.01 L594.52,346.54 L592.49,345.98 L590.49,345.31 L588.54,344.56 L586.65,343.72 L584.84,342.80 L583.13,341.82 L581.52,340.77 L580.03,339.67 L578.68,338.53 L577.47,337.35 L576.41,336.15 L575.53,334.94 L574.81,333.72 L574.27,332.51 L573.91,331.31 L573.74,330.14 L573.76,329.01 L573.96,327.93 L574.35,326.90 L574.92,325.93 L575.66,325.03" stroke-width="1.19" />
<path d="M575.50,317.78 L574.00,327.78" stroke-width="1.19" />
<path d="M618.79,332.76 L618.27,339.56" stroke-width="1.19" />
<ellipse cx="597.50" cy="324.50" rx="23.00" ry="12.00" transform="rotate(17 597.50 324.50)" stroke-width="1.19" fill="#fff" />
<ellipse cx="598.00" cy="325.00" rx="19.00" ry="9.80" transform="rotate(17 598.00 325.00)" stroke-width="1.14" fill="none" />
<ellipse cx="598.50" cy="326.00" rx="15.80" ry="8.00" transform="rotate(17 598.50 326.00)" stroke-width="1.14" fill="none" />
<path d="M587.13,327.22 L586.71,326.46 L586.42,325.72 L586.26,325.00 L586.25,324.30 L586.38,323.64 L586.64,323.02 L587.04,322.45 L587.57,321.94 L588.23,321.48 L589.00,321.10 L589.89,320.78 L590.87,320.54 L591.94,320.37 L593.09,320.28 L594.31,320.27 L595.58,320.34 L596.88,320.49 L598.21,320.71 L599.54,321.01 L600.87,321.38 L602.18,321.82 L603.45,322.32 L604.68,322.87 L605.84,323.48 L606.93,324.13 L607.93,324.82 L608.84,325.53 L609.63,326.27 L610.31,327.02 L610.87,327.78 L611.29,328.54 L611.58,329.28 L611.74,330.00 L611.75,330.70 L611.62,331.36 L611.36,331.98 L610.96,332.55 L610.43,333.06 L609.77,333.52 L609.00,333.90" stroke-width="1.06" />
</g>
<g transform="translate(0 0)">
<path d="M563.30,377.40 C562.37,375.77 557.58,370.87 557.70,367.60 C557.82,364.33 560.62,360.07 564.00,357.80 C567.38,355.53 572.75,354.12 578.00,354.00 C583.25,353.88 590.25,354.83 595.50,357.10 C600.75,359.37 606.53,364.45 609.50,367.60 C612.47,370.75 613.18,373.55 613.30,376.00 C613.42,378.45 612.12,380.43 610.20,382.30 C608.28,384.17 603.20,386.38 601.80,387.20" stroke-width="1.19" />
<path d="M571.70,357.10 C570.07,358.27 563.48,362.12 561.90,364.10 C560.32,366.08 562.15,368.18 562.20,369.00" stroke-width="1.06" />
<path d="M604.60,366.20 C605.30,367.60 608.45,372.38 608.80,374.60 C609.15,376.82 607.05,378.68 606.70,379.50" stroke-width="1.06" />
<path d="M562.40,368.60 C562.87,367.20 564.00,365.60 566.00,364.60 C568.00,363.60 570.60,362.60 574.40,362.60 C578.20,362.60 584.27,363.20 588.80,364.60 C593.33,366.00 598.57,368.57 601.60,371.00 C604.63,373.43 607.18,376.97 607.00,379.20 C606.82,381.43 602.73,383.33 600.50,384.40 C598.27,385.47 597.02,385.70 593.60,385.60 C590.18,385.50 584.10,385.07 580.00,383.80 C575.90,382.53 571.80,379.80 569.00,378.00 C566.20,376.20 564.30,374.57 563.20,373.00 C562.10,371.43 561.93,370.00 562.40,368.60 Z" stroke-width="1.19" />
<path d="M571.00,379.50 C572.17,379.27 575.43,377.98 578.00,378.10 C580.57,378.22 583.83,379.03 586.40,380.20 C588.97,381.37 592.23,384.28 593.40,385.10" stroke-width="1.06" />
<path d="M557.70,365.50 C557.17,367.08 555.32,372.08 554.50,375.00 C553.68,377.92 552.97,380.50 552.80,383.00 C552.63,385.50 553.38,388.83 553.50,390.00" stroke-width="1.19" />
<path d="M613.30,376.00 C612.92,377.67 611.88,382.73 611.00,386.00 C610.12,389.27 609.17,393.27 608.00,395.60 C606.83,397.93 605.50,398.72 604.00,400.00 C602.50,401.28 600.12,401.57 599.00,403.30 C597.88,405.03 597.58,409.22 597.30,410.40" stroke-width="1.19" />
<path d="M561.20,396.30 C562.67,397.00 567.20,399.33 570.00,400.50 C572.80,401.67 574.33,402.60 578.00,403.30 C581.67,404.00 587.80,405.05 592.00,404.70 C596.20,404.35 601.33,401.78 603.20,401.20" stroke-width="1.19" />
<path d="M553.50,390.00 C552.29,395.00 552.03,398.33 546.25,420.00 C540.47,441.67 524.01,500.21 518.80,520.00 C513.59,539.79 517.09,532.50 515.00,538.75 C512.91,545.00 509.42,551.96 506.25,557.50 C503.08,563.04 497.71,569.58 496.00,572.00" stroke-width="1.19" />
<path d="M597.30,410.40 C596.10,414.50 595.48,415.07 590.10,435.00 C584.72,454.93 571.77,504.67 565.00,530.00 C558.23,555.33 552.32,576.79 549.50,587.00 C546.68,597.21 548.33,590.54 548.10,591.25" stroke-width="1.19" />
<path d="M561.20,396.30 L558.20,397.20 L542.50,458.10" stroke-width="1.06" />
<path d="M562.60,398.40 C561.75,402.00 563.56,398.07 557.50,420.00 C551.44,441.93 532.70,506.67 526.25,530.00 C519.80,553.33 521.24,551.13 518.80,560.00 C516.36,568.87 512.80,579.33 511.60,583.20" stroke-width="1.19" />
<path d="M531.25,503.00 C530.00,507.50 525.62,523.00 523.75,530.00 C521.88,537.00 521.62,540.00 520.00,545.00 C518.38,550.00 516.67,555.10 514.00,560.00 C511.33,564.90 507.53,569.60 504.00,574.40 C500.47,579.20 494.67,586.40 492.80,588.80" stroke-width="1.19" />
<path d="M496.00,572.00 C495.17,573.00 492.47,576.13 491.00,578.00 C489.53,579.87 487.83,582.33 487.20,583.20" stroke-width="1.06" />
<path d="M496.00,572.00 C495.20,571.73 493.47,570.13 491.20,570.40 C488.93,570.67 485.07,571.87 482.40,573.60 C479.73,575.33 476.73,578.40 475.20,580.80 C473.67,583.20 473.20,585.87 473.20,588.00 C473.20,590.13 473.67,591.33 475.20,593.60 C476.73,595.87 480.27,599.20 482.40,601.60 C484.53,604.00 485.73,606.00 488.00,608.00 C490.27,610.00 494.00,612.27 496.00,613.60 C498.00,614.93 499.33,615.60 500.00,616.00" stroke-width="1.19" />
<path d="M488.00,588.00 C487.20,589.33 484.07,593.60 483.20,596.00 C482.33,598.40 482.87,601.33 482.80,602.40" stroke-width="1.06" />
<path d="M498.40,584.00 C499.60,583.73 503.40,582.47 505.60,582.40 C507.80,582.33 509.87,582.27 511.60,583.60 C513.33,584.93 514.73,588.47 516.00,590.40 C517.27,592.33 518.67,594.40 519.20,595.20" stroke-width="1.19" />
<ellipse cx="509.00" cy="605.60" rx="13.00" ry="8.20" transform="rotate(-40 509.00 605.60)" stroke-width="1.19" fill="#fff" />
<path d="M499.80,604.50 C499.83,605.08 499.55,607.18 500.00,608.00 C500.45,608.82 501.58,609.32 502.50,609.40 C503.42,609.48 505.00,608.65 505.50,608.50" stroke-width="1.01" />
<path d="M499.20,607.50 C499.37,608.12 499.60,610.40 500.20,611.20 C500.80,612.00 501.87,612.17 502.80,612.30 C503.73,612.43 505.30,612.05 505.80,612.00" stroke-width="1.01" />
<path d="M512.30,596.50 L512.70,598.50 L512.40,600.80" stroke-width="0.97" />
<path d="M513.80,595.60 C514.20,595.87 515.70,596.50 516.20,597.20 C516.70,597.90 516.72,598.93 516.80,599.80 C516.88,600.67 516.72,601.97 516.70,602.40" stroke-width="1.01" />
<path d="M495.80,607.20 L495.90,612.50" stroke-width="1.01" />
<path d="M511.20,592.50 L516.50,592.30" stroke-width="0.97" />
<path d="M519.20,595.20 C520.17,595.55 522.78,596.82 525.00,597.30 C527.22,597.78 529.58,598.33 532.50,598.10 C535.42,597.87 539.90,597.04 542.50,595.90 C545.10,594.76 547.17,592.02 548.10,591.25" stroke-width="1.19" />
<path d="M543.20,596.00 C543.00,596.83 542.40,599.53 542.00,601.00 C541.60,602.47 541.80,603.10 540.80,604.80 C539.80,606.50 538.80,609.87 536.00,611.20 C533.20,612.53 527.60,612.93 524.00,612.80 C520.40,612.67 516.00,610.80 514.40,610.40" stroke-width="1.19" />
</g>
<g transform="translate(79.2 77.6)">
<path d="M563.30,377.40 C562.37,375.77 557.58,370.87 557.70,367.60 C557.82,364.33 560.62,360.07 564.00,357.80 C567.38,355.53 572.75,354.12 578.00,354.00 C583.25,353.88 590.25,354.83 595.50,357.10 C600.75,359.37 606.53,364.45 609.50,367.60 C612.47,370.75 613.18,373.55 613.30,376.00 C613.42,378.45 612.12,380.43 610.20,382.30 C608.28,384.17 603.20,386.38 601.80,387.20" stroke-width="1.19" />
<path d="M571.70,357.10 C570.07,358.27 563.48,362.12 561.90,364.10 C560.32,366.08 562.15,368.18 562.20,369.00" stroke-width="1.06" />
<path d="M604.60,366.20 C605.30,367.60 608.45,372.38 608.80,374.60 C609.15,376.82 607.05,378.68 606.70,379.50" stroke-width="1.06" />
<path d="M562.40,368.60 C562.87,367.20 564.00,365.60 566.00,364.60 C568.00,363.60 570.60,362.60 574.40,362.60 C578.20,362.60 584.27,363.20 588.80,364.60 C593.33,366.00 598.57,368.57 601.60,371.00 C604.63,373.43 607.18,376.97 607.00,379.20 C606.82,381.43 602.73,383.33 600.50,384.40 C598.27,385.47 597.02,385.70 593.60,385.60 C590.18,385.50 584.10,385.07 580.00,383.80 C575.90,382.53 571.80,379.80 569.00,378.00 C566.20,376.20 564.30,374.57 563.20,373.00 C562.10,371.43 561.93,370.00 562.40,368.60 Z" stroke-width="1.19" />
<path d="M571.00,379.50 C572.17,379.27 575.43,377.98 578.00,378.10 C580.57,378.22 583.83,379.03 586.40,380.20 C588.97,381.37 592.23,384.28 593.40,385.10" stroke-width="1.06" />
<path d="M557.70,365.50 C557.17,367.08 555.32,372.08 554.50,375.00 C553.68,377.92 552.97,380.50 552.80,383.00 C552.63,385.50 553.38,388.83 553.50,390.00" stroke-width="1.19" />
<path d="M613.30,376.00 C612.92,377.67 611.88,382.73 611.00,386.00 C610.12,389.27 609.17,393.27 608.00,395.60 C606.83,397.93 605.50,398.72 604.00,400.00 C602.50,401.28 600.12,401.57 599.00,403.30 C597.88,405.03 597.58,409.22 597.30,410.40" stroke-width="1.19" />
<path d="M561.20,396.30 C562.67,397.00 567.20,399.33 570.00,400.50 C572.80,401.67 574.33,402.60 578.00,403.30 C581.67,404.00 587.80,405.05 592.00,404.70 C596.20,404.35 601.33,401.78 603.20,401.20" stroke-width="1.19" />
<path d="M553.50,390.00 C552.29,395.00 552.03,398.33 546.25,420.00 C540.47,441.67 524.01,500.21 518.80,520.00 C513.59,539.79 517.09,532.50 515.00,538.75 C512.91,545.00 509.42,551.96 506.25,557.50 C503.08,563.04 497.71,569.58 496.00,572.00" stroke-width="1.19" />
<path d="M597.30,410.40 C596.10,414.50 595.48,415.07 590.10,435.00 C584.72,454.93 571.77,504.67 565.00,530.00 C558.23,555.33 552.32,576.79 549.50,587.00 C546.68,597.21 548.33,590.54 548.10,591.25" stroke-width="1.19" />
<path d="M561.20,396.30 L558.20,397.20 L542.50,458.10" stroke-width="1.06" />
<path d="M562.60,398.40 C561.75,402.00 563.56,398.07 557.50,420.00 C551.44,441.93 532.70,506.67 526.25,530.00 C519.80,553.33 521.24,551.13 518.80,560.00 C516.36,568.87 512.80,579.33 511.60,583.20" stroke-width="1.19" />
<path d="M531.25,503.00 C530.00,507.50 525.62,523.00 523.75,530.00 C521.88,537.00 521.62,540.00 520.00,545.00 C518.38,550.00 516.67,555.10 514.00,560.00 C511.33,564.90 507.53,569.60 504.00,574.40 C500.47,579.20 494.67,586.40 492.80,588.80" stroke-width="1.19" />
<path d="M496.00,572.00 C495.17,573.00 492.47,576.13 491.00,578.00 C489.53,579.87 487.83,582.33 487.20,583.20" stroke-width="1.06" />
<path d="M496.00,572.00 C495.20,571.73 493.47,570.13 491.20,570.40 C488.93,570.67 485.07,571.87 482.40,573.60 C479.73,575.33 476.73,578.40 475.20,580.80 C473.67,583.20 473.20,585.87 473.20,588.00 C473.20,590.13 473.67,591.33 475.20,593.60 C476.73,595.87 480.27,599.20 482.40,601.60 C484.53,604.00 485.73,606.00 488.00,608.00 C490.27,610.00 494.00,612.27 496.00,613.60 C498.00,614.93 499.33,615.60 500.00,616.00" stroke-width="1.19" />
<path d="M488.00,588.00 C487.20,589.33 484.07,593.60 483.20,596.00 C482.33,598.40 482.87,601.33 482.80,602.40" stroke-width="1.06" />
<path d="M498.40,584.00 C499.60,583.73 503.40,582.47 505.60,582.40 C507.80,582.33 509.87,582.27 511.60,583.60 C513.33,584.93 514.73,588.47 516.00,590.40 C517.27,592.33 518.67,594.40 519.20,595.20" stroke-width="1.19" />
<ellipse cx="509.00" cy="605.60" rx="13.00" ry="8.20" transform="rotate(-40 509.00 605.60)" stroke-width="1.19" fill="#fff" />
<path d="M499.80,604.50 C499.83,605.08 499.55,607.18 500.00,608.00 C500.45,608.82 501.58,609.32 502.50,609.40 C503.42,609.48 505.00,608.65 505.50,608.50" stroke-width="1.01" />
<path d="M499.20,607.50 C499.37,608.12 499.60,610.40 500.20,611.20 C500.80,612.00 501.87,612.17 502.80,612.30 C503.73,612.43 505.30,612.05 505.80,612.00" stroke-width="1.01" />
<path d="M512.30,596.50 L512.70,598.50 L512.40,600.80" stroke-width="0.97" />
<path d="M513.80,595.60 C514.20,595.87 515.70,596.50 516.20,597.20 C516.70,597.90 516.72,598.93 516.80,599.80 C516.88,600.67 516.72,601.97 516.70,602.40" stroke-width="1.01" />
<path d="M495.80,607.20 L495.90,612.50" stroke-width="1.01" />
<path d="M511.20,592.50 L516.50,592.30" stroke-width="0.97" />
<path d="M519.20,595.20 C520.17,595.55 522.78,596.82 525.00,597.30 C527.22,597.78 529.58,598.33 532.50,598.10 C535.42,597.87 539.90,597.04 542.50,595.90 C545.10,594.76 547.17,592.02 548.10,591.25" stroke-width="1.19" />
<path d="M543.20,596.00 C543.00,596.83 542.40,599.53 542.00,601.00 C541.60,602.47 541.80,603.10 540.80,604.80 C539.80,606.50 538.80,609.87 536.00,611.20 C533.20,612.53 527.60,612.93 524.00,612.80 C520.40,612.67 516.00,610.80 514.40,610.40" stroke-width="1.19" />
</g>
<path d="M597.80,597.20 C597.00,597.83 594.10,599.70 593.00,601.00 C591.90,602.30 591.33,603.78 591.20,605.00 C591.07,606.22 591.48,607.67 592.20,608.30 C592.92,608.93 594.95,608.72 595.50,608.80" stroke-width="1.06" />
<ellipse cx="514.70" cy="630.20" rx="8.80" ry="5.80" transform="rotate(10 514.70 630.20)" stroke-width="1.14" fill="none" />
<ellipse cx="514.70" cy="630.40" rx="5.60" ry="3.40" transform="rotate(10 514.70 630.40)" stroke-width="1.06" fill="none" />
<path d="M514.72,665.15 L514.68,665.53 L514.60,665.91 L514.45,666.27 L514.26,666.61 L514.02,666.94 L513.73,667.25 L513.39,667.54 L513.01,667.80 L512.58,668.04 L512.12,668.26 L511.63,668.45 L511.10,668.60 L510.54,668.73 L509.96,668.83 L509.36,668.89 L508.75,668.92 L508.12,668.92 L507.48,668.89 L506.84,668.83 L506.20,668.73 L505.57,668.60 L504.94,668.44 L504.33,668.26 L503.74,668.04 L503.18,667.80 L502.63,667.53 L502.12,667.25 L501.64,666.94 L501.20,666.61 L500.80,666.26 L500.44,665.90 L500.12,665.53 L499.86,665.15 L499.64,664.76 L499.47,664.37 L499.35,663.98 L499.29,663.59 L499.28,663.21 L499.32,662.83 L499.42,662.46" stroke-width="1.14" />
<path d="M499.42,657.86 L499.42,662.46" stroke-width="1.14" />
<path d="M514.72,660.55 L514.72,665.15" stroke-width="1.14" />
<ellipse cx="507.00" cy="659.60" rx="7.80" ry="4.60" transform="rotate(10 507.00 659.60)" stroke-width="1.14" fill="#fff" />
<path d="M512.91,662.86 L512.86,662.91 L512.81,662.96 L512.76,663.01 L512.70,663.06 L512.65,663.11 L512.59,663.15 L512.53,663.20 L512.47,663.25 L512.41,663.29 L512.35,663.34 L512.28,663.38 L512.21,663.42 L512.15,663.46 L512.08,663.50 L512.00,663.54 L511.93,663.58 L511.86,663.62 L511.78,663.66 L511.70,663.69 L511.63,663.73 L511.55,663.76 L511.47,663.80 L511.38,663.83 L511.30,663.86 L511.21,663.89 L511.13,663.92 L511.04,663.95 L510.95,663.98 L510.86,664.00 L510.77,664.03 L510.68,664.05 L510.59,664.08 L510.49,664.10 L510.40,664.12 L510.30,664.14 L510.21,664.16 L510.11,664.18 L510.01,664.20 L509.91,664.21 L509.81,664.23" stroke-width="0.88" />
<path d="M501.97,662.03 L501.92,661.97 L501.86,661.92 L501.81,661.87 L501.76,661.82 L501.71,661.76 L501.67,661.71 L501.62,661.65 L501.57,661.60 L501.53,661.54 L501.49,661.49 L501.45,661.43 L501.41,661.38 L501.37,661.32 L501.33,661.27 L501.30,661.21 L501.26,661.16 L501.23,661.10 L501.20,661.04 L501.17,660.99 L501.14,660.93 L501.11,660.87 L501.08,660.82 L501.06,660.76 L501.04,660.70 L501.02,660.65 L501.00,660.59 L500.98,660.53 L500.96,660.48 L500.94,660.42 L500.93,660.36 L500.92,660.31 L500.90,660.25 L500.90,660.19 L500.89,660.14 L500.88,660.08 L500.87,660.02 L500.87,659.97 L500.87,659.91 L500.87,659.86 L500.87,659.80" stroke-width="0.88" />
<path d="M505.8,644.5 L502.6,658.5 C505,660.5 509.5,661 512.2,659.5 L514.8,645.5 Z" fill="#fff" stroke="none"/>
<path d="M505.80,644.50 L502.80,658.00" stroke-width="1.14" />
<path d="M514.80,645.50 L512.20,659.00" stroke-width="1.14" />
<path d="M514.84,648.43 L514.83,648.59 L514.79,648.74 L514.72,648.89 L514.62,649.03 L514.48,649.16 L514.32,649.28 L514.13,649.39 L513.92,649.49 L513.68,649.58 L513.42,649.65 L513.13,649.72 L512.83,649.77 L512.51,649.80 L512.17,649.83 L511.82,649.83 L511.46,649.83 L511.10,649.81 L510.72,649.78 L510.35,649.73 L509.97,649.67 L509.60,649.60 L509.23,649.51 L508.87,649.42 L508.51,649.31 L508.17,649.19 L507.85,649.06 L507.54,648.93 L507.25,648.78 L506.98,648.63 L506.74,648.48 L506.52,648.31 L506.32,648.15 L506.15,647.98 L506.01,647.81 L505.90,647.65 L505.82,647.48 L505.78,647.31 L505.76,647.15 L505.77,646.99 L505.82,646.84" stroke-width="1.06" />
<path d="M514.39,650.48 L514.38,650.64 L514.34,650.79 L514.27,650.94 L514.17,651.08 L514.03,651.21 L513.87,651.33 L513.68,651.44 L513.47,651.54 L513.23,651.63 L512.97,651.70 L512.68,651.77 L512.38,651.82 L512.06,651.85 L511.72,651.88 L511.37,651.88 L511.01,651.88 L510.65,651.86 L510.27,651.83 L509.90,651.78 L509.52,651.72 L509.15,651.65 L508.78,651.56 L508.42,651.47 L508.06,651.36 L507.72,651.24 L507.40,651.11 L507.09,650.98 L506.80,650.83 L506.53,650.68 L506.29,650.53 L506.07,650.36 L505.87,650.20 L505.70,650.03 L505.56,649.86 L505.45,649.70 L505.37,649.53 L505.33,649.36 L505.31,649.20 L505.32,649.04 L505.37,648.89" stroke-width="1.06" />
<path d="M513.94,652.53 L513.93,652.69 L513.89,652.84 L513.82,652.99 L513.72,653.13 L513.58,653.26 L513.42,653.38 L513.23,653.49 L513.02,653.59 L512.78,653.68 L512.52,653.75 L512.23,653.82 L511.93,653.87 L511.61,653.90 L511.27,653.93 L510.92,653.93 L510.56,653.93 L510.20,653.91 L509.82,653.88 L509.45,653.83 L509.07,653.77 L508.70,653.70 L508.33,653.61 L507.97,653.52 L507.61,653.41 L507.27,653.29 L506.95,653.16 L506.64,653.03 L506.35,652.88 L506.08,652.73 L505.84,652.58 L505.62,652.41 L505.42,652.25 L505.25,652.08 L505.11,651.91 L505.00,651.75 L504.92,651.58 L504.88,651.41 L504.86,651.25 L504.87,651.09 L504.92,650.94" stroke-width="1.06" />
<path d="M513.49,654.58 L513.48,654.74 L513.44,654.89 L513.37,655.04 L513.27,655.18 L513.13,655.31 L512.97,655.43 L512.78,655.54 L512.57,655.64 L512.33,655.73 L512.07,655.80 L511.78,655.87 L511.48,655.92 L511.16,655.95 L510.82,655.98 L510.47,655.98 L510.11,655.98 L509.75,655.96 L509.37,655.93 L509.00,655.88 L508.62,655.82 L508.25,655.75 L507.88,655.66 L507.52,655.57 L507.16,655.46 L506.82,655.34 L506.50,655.21 L506.19,655.08 L505.90,654.93 L505.63,654.78 L505.39,654.63 L505.17,654.46 L504.97,654.30 L504.80,654.13 L504.66,653.96 L504.55,653.80 L504.47,653.63 L504.43,653.46 L504.41,653.30 L504.42,653.14 L504.47,652.99" stroke-width="1.06" />
<path d="M513.04,656.63 L513.03,656.79 L512.99,656.94 L512.92,657.09 L512.82,657.23 L512.68,657.36 L512.52,657.48 L512.33,657.59 L512.12,657.69 L511.88,657.78 L511.62,657.85 L511.33,657.92 L511.03,657.97 L510.71,658.00 L510.37,658.03 L510.02,658.03 L509.66,658.03 L509.30,658.01 L508.92,657.98 L508.55,657.93 L508.17,657.87 L507.80,657.80 L507.43,657.71 L507.07,657.62 L506.71,657.51 L506.37,657.39 L506.05,657.26 L505.74,657.13 L505.45,656.98 L505.18,656.83 L504.94,656.68 L504.72,656.51 L504.52,656.35 L504.35,656.18 L504.21,656.01 L504.10,655.85 L504.02,655.68 L503.98,655.51 L503.96,655.35 L503.97,655.19 L504.02,655.04" stroke-width="1.06" />
<path d="M512.59,658.68 L512.58,658.84 L512.54,658.99 L512.47,659.14 L512.37,659.28 L512.23,659.41 L512.07,659.53 L511.88,659.64 L511.67,659.74 L511.43,659.83 L511.17,659.90 L510.88,659.97 L510.58,660.02 L510.26,660.05 L509.92,660.08 L509.57,660.08 L509.21,660.08 L508.85,660.06 L508.47,660.03 L508.10,659.98 L507.72,659.92 L507.35,659.85 L506.98,659.76 L506.62,659.67 L506.26,659.56 L505.92,659.44 L505.60,659.31 L505.29,659.18 L505.00,659.03 L504.73,658.88 L504.49,658.73 L504.27,658.56 L504.07,658.40 L503.90,658.23 L503.76,658.06 L503.65,657.90 L503.57,657.73 L503.53,657.56 L503.51,657.40 L503.52,657.24 L503.57,657.09" stroke-width="1.06" />
<ellipse cx="510.30" cy="643.80" rx="4.50" ry="2.30" transform="rotate(10 510.30 643.80)" stroke-width="1.14" fill="#fff" />
<path d="M222.5,828.5 L232,813.5 L233.5,815 L252,806.5 L253,818 L233.75,829.5 L233.75,833.25 Z" fill="#1c1c1c" stroke="none"/>
<g transform="matrix(0.8 -0.456 -0.24 0.87 233.3 828.0)" stroke="#fff" stroke-width="2.5" stroke-linecap="butt" stroke-linejoin="miter" fill="none"><path d="M0.9,0 L0.9,-9.2 M0,-8.3 L5.2,-8.3 M0.9,-4.6 L4.4,-4.6 M5.8,-9.2 L7.6,0 L9.4,-6.2 L11.2,0 L13.0,-9.2 M14.9,0 L14.9,-9.2 M14,-8.3 L16.4,-8.3 C19.2,-8.3 19.6,-6.5 19.6,-4.6 C19.6,-2.6 19.2,-0.9 16.4,-0.9 L14,-0.9"/></g>
</g>
<g style="font-family:'Liberation Sans',sans-serif;font-size:13.6px" fill="#1c1c1c">
<path d="M466.65,56.90 L466.65,47.50 M463.80,50.30 C465.20,49.90 466.20,49.10 466.55,47.70" fill="none" stroke="#1c1c1c" stroke-width="1.3"/>
<path d="M478.19,56.90 L478.19,47.50 M475.34,50.30 C476.74,49.90 477.74,49.10 478.09,47.70" fill="none" stroke="#1c1c1c" stroke-width="1.3"/>
<text x="480.70" y="56.9">6</text>
<circle cx="471.27" cy="52.30" r="1.2"/>
<path d="M360.05,253.70 L360.05,244.30 M357.20,247.10 C358.60,246.70 359.60,245.90 359.95,244.50" fill="none" stroke="#1c1c1c" stroke-width="1.3"/>
<text x="362.56" y="253.7">5</text>
<text x="376.14" y="253.7">3</text>
<text x="383.70" y="253.7">0</text>
<circle cx="373.10" cy="249.10" r="1.2"/>
<path d="M356.75,279.00 L356.75,269.60 M353.90,272.40 C355.30,272.00 356.30,271.20 356.65,269.80" fill="none" stroke="#1c1c1c" stroke-width="1.3"/>
<text x="359.26" y="279">0</text>
<text x="373.34" y="279">2</text>
<text x="380.90" y="279">5</text>
<circle cx="370.15" cy="274.40" r="1.2"/>
<text x="346.00" y="299.3">7</text>
<text x="360.84" y="299.3">2</text>
<text x="368.40" y="299.3">2</text>
<circle cx="357.22" cy="294.70" r="1.2"/>
<path d="M518.65,184.50 L518.65,175.10 M515.80,177.90 C517.20,177.50 518.20,176.70 518.55,175.30" fill="none" stroke="#1c1c1c" stroke-width="1.3"/>
<text x="521.16" y="184.5">4</text>
<text x="535.14" y="184.5">2</text>
<text x="542.70" y="184.5">9</text>
<circle cx="532.10" cy="179.90" r="1.2"/>
<path d="M495.25,255.90 L495.25,246.50 M492.40,249.30 C493.80,248.90 494.80,248.10 495.15,246.70" fill="none" stroke="#1c1c1c" stroke-width="1.3"/>
<text x="497.76" y="255.9">3</text>
<text x="513.24" y="255.9">2</text>
<text x="520.80" y="255.9">8</text>
<circle cx="509.35" cy="251.30" r="1.2"/>
<path d="M477.55,339.80 L477.55,330.40 M474.70,333.20 C476.10,332.80 477.10,332.00 477.45,330.60" fill="none" stroke="#1c1c1c" stroke-width="1.3"/>
<text x="480.06" y="339.8">2</text>
<text x="494.24" y="339.8">2</text>
<text x="501.80" y="339.8">7</text>
<circle cx="490.95" cy="335.20" r="1.2"/>
<text x="652.60" y="260">5</text>
<text x="639.20" y="297.5">4</text>
<text x="630.20" y="335">3</text>
<text x="731.60" y="339.8">2</text>
<text x="739.16" y="339.8">0</text>
<path d="M721.05,378.20 L721.05,368.80 M718.20,371.60 C719.60,371.20 720.60,370.40 720.95,369.00" fill="none" stroke="#1c1c1c" stroke-width="1.3"/>
<text x="723.56" y="378.2">9</text>
<path d="M712.55,415.00 L712.55,405.60 M709.70,408.40 C711.10,408.00 712.10,407.20 712.45,405.80" fill="none" stroke="#1c1c1c" stroke-width="1.3"/>
<text x="715.06" y="415">8</text>
<text x="605.90" y="496.9">2</text>
<path d="M695.55,576.10 L695.55,566.70 M692.70,569.50 C694.10,569.10 695.10,568.30 695.45,566.90" fill="none" stroke="#1c1c1c" stroke-width="1.3"/>
<text x="698.06" y="576.1">7</text>
<path d="M309.95,431.40 L309.95,422.00 M307.10,424.80 C308.50,424.40 309.50,423.60 309.85,422.20" fill="none" stroke="#1c1c1c" stroke-width="1.3"/>
<path d="M317.51,431.40 L317.51,422.00 M314.66,424.80 C316.06,424.40 317.06,423.60 317.41,422.20" fill="none" stroke="#1c1c1c" stroke-width="1.3"/>
<text x="327.44" y="431.4">2</text>
<text x="335.00" y="431.4">6</text>
<circle cx="323.15" cy="426.80" r="1.2"/>
<text x="441.30" y="501">6</text>
<text x="457.74" y="501">2</text>
<path d="M470.35,501.00 L470.35,491.60 M467.50,494.40 C468.90,494.00 469.90,493.20 470.25,491.80" fill="none" stroke="#1c1c1c" stroke-width="1.3"/>
<circle cx="453.37" cy="496.40" r="1.2"/>
<text x="449.80" y="634.1">9</text>
<text x="464.74" y="634.1">2</text>
<text x="472.30" y="634.1">4</text>
<circle cx="461.07" cy="629.50" r="1.2"/>
<text x="442.10" y="666">8</text>
<text x="457.84" y="666">2</text>
<text x="465.40" y="666">3</text>
<circle cx="453.82" cy="661.40" r="1.2"/>
</g>
</svg>
</body></html>
